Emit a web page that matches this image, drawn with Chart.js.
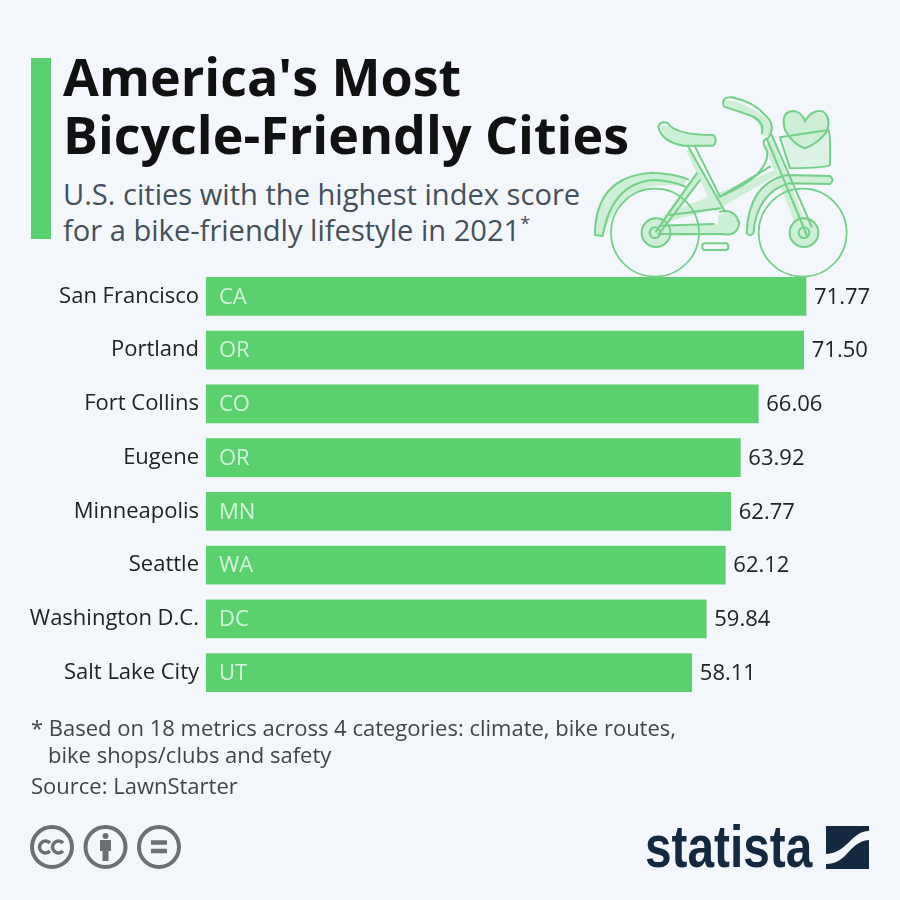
<!DOCTYPE html>
<html>
<head>
<meta charset="utf-8">
<script src="https://cdn.jsdelivr.net/npm/chart.js@4"></script>
<style>
  html, body { margin: 0; padding: 0; background: #f3f7fc; }
  #page { position: relative; width: 900px; height: 900px; overflow: hidden; font-family: "Open Sans", sans-serif; }
  #chart { position: absolute; left: 0; top: 0; }
  .txt { position: absolute; white-space: nowrap; }
  #accent { position: absolute; left: 31px; top: 58px; width: 20px; height: 181px; background: #5bd06f; }
  .title { left: 63px; font-size: 52px; font-weight: 700; color: #111; line-height: 58px; }
  .sub { left: 63px; font-size: 29.1px; color: #44505a; line-height: 36px; }
  .sub sup { font-size: 18px; line-height: 0; }
  .note { font-size: 22px; color: #444; line-height: 27px; }
  #bike, #cc, #logo { position: absolute; }
  #brand { left: 645px; top: 812px; font-family: "Liberation Sans", sans-serif; font-size: 59px; font-weight: 700; color: #14293f; line-height: 70px; transform: scaleX(0.81); transform-origin: left center; }
</style>
</head>
<body>
<div id="page">
  <div id="accent"></div>
  <div class="txt title" style="top:47px">America's Most</div>
  <div class="txt title" style="top:105px">Bicycle-Friendly Cities</div>
  <div class="txt sub" style="top:176px">U.S. cities with the highest index score</div>
  <div class="txt sub" style="top:212px">for a bike-friendly lifestyle in 2021<sup>*</sup></div>

  <canvas id="chart" width="900" height="900"></canvas>

  <svg id="bike" style="left:580px;top:80px" width="290" height="210" viewBox="0 0 870 630" fill="none" stroke="#74cf89" stroke-width="6" stroke-linecap="round" stroke-linejoin="round">
    <g fill="#cdefd5" stroke="none">
      <path d="M430 60 Q480 60 545 105 Q585 130 570 170 L545 165 Q545 125 500 105 L435 85Z"/>
      <path d="M240 135 L270 140 Q300 170 400 165 L410 195 L320 200 Q250 190 240 135Z"/>
      <path d="M610 110 Q640 80 675 115 Q715 80 745 115 Q755 160 675 205 Q610 170 610 110Z"/>
      <path d="M610 175 L750 155 L750 255 L630 265Z" opacity=".6"/>
      <path d="M415 405 Q470 385 480 435 Q470 475 415 465Z"/>
      <circle cx="228" cy="458" r="43"/>
      <circle cx="672" cy="458" r="43"/>
      <path d="M45 465 Q50 285 220 280 Q290 285 320 300 L310 320 Q130 290 70 465Z"/>
      <path d="M500 460 Q510 300 620 285 L755 290 L755 310 L620 315 Q540 340 520 460Z"/>
      <path d="M330 205 L430 385 L405 395 L320 215Z"/>
      <path d="M575 170 L690 460 L660 470 L555 200Z"/>
      <path d="M225 445 L350 275 L365 300 L245 460Z"/>
      <path d="M250 405 L585 270 L590 285 L420 385 L260 425Z"/>
      <path d="M225 437 L430 432 L430 465 L225 470Z"/>
    </g>
    <path d="M430 75 Q425 50 455 52 Q520 65 555 105 Q590 135 565 175 Q540 180 560 210 Q570 240 530 285 Q490 320 420 350"/>
    <path d="M432 80 Q480 95 520 110 Q555 130 545 160"/>
    <path d="M235 140 Q240 122 262 128 Q285 165 400 165 Q415 180 400 197 L310 197 Q245 185 235 140Z"/>
    <path d="M325 200 L435 395 M345 200 L420 350"/>
    <path d="M228 455 L350 280 M238 460 L360 300"/>
    <path d="M270 405 L420 385 M420 350 L570 260"/>
    <path d="M240 437 L400 432 M235 462 L430 462 Q470 470 478 430 Q465 385 420 395"/>
    <path d="M560 175 L680 465 M575 165 L695 440"/>
    <path d="M45 465 Q45 290 215 278 Q280 280 325 298 M68 468 Q95 310 220 300 Q270 300 315 320 M45 465 L68 468"/>
    <path d="M500 460 Q505 310 620 285 L750 288 Q765 300 750 312 L625 310 Q530 340 520 460 M500 460 Q510 470 520 460"/>
    <circle cx="225" cy="458" r="132" stroke-width="5"/>
    <circle cx="668" cy="458" r="132" stroke-width="5"/>
    <circle cx="228" cy="458" r="43"/>
    <circle cx="672" cy="458" r="43"/>
    <circle cx="225" cy="458" r="16"/>
    <circle cx="672" cy="458" r="16"/>
    <rect x="367" y="490" width="78" height="20" rx="8"/>
    <path d="M615 150 Q600 95 640 93 Q665 95 675 125 Q695 85 730 95 Q755 115 740 155 Q715 190 675 205 Q640 195 615 150"/>
    <path d="M600 172 L745 150 Q752 155 750 255 Q745 263 630 265 Z"/>
  </svg>

  <div class="txt note" style="left:31px;top:714px">* Based on 18 metrics across 4 categories: climate, bike routes,</div>
  <div class="txt note" style="left:48px;top:741px">bike shops/clubs and safety</div>
  <div class="txt note" style="left:31px;top:772px">Source: LawnStarter</div>

  <svg id="cc" style="left:30px;top:825px" width="155" height="46" viewBox="0 0 155 46" fill="none" stroke="#6d7073" stroke-width="4">
    <circle cx="22" cy="22" r="20"/>
    <circle cx="75.500" cy="22" r="20"/>
    <circle cx="129" cy="22" r="20"/>
    <path d="M20 18 A6 6 0 1 0 20 26 M33 18 A6 6 0 1 0 33 26" stroke-width="3.500"/>
    <circle cx="75.500" cy="11" r="3" fill="#6d7073" stroke="none"/>
    <path d="M70 15 H81 V26 H78.500 V36 H72.500 V26 H70Z" fill="#6d7073" stroke="none"/>
    <path d="M121 17.500 H137 M121 26 H137" stroke-width="4.500"/>
  </svg>

  <div class="txt" id="brand">statista</div>
  <svg id="logo" style="left:826px;top:826px" width="43" height="43" viewBox="0 0 43 43">
    <path d="M0 0 H43 V5 C25 5 22 27 0 28Z" fill="#14293f"/>
    <path d="M43 14 V43 H0 V38 C22 38 22 16 43 14Z" fill="#14293f"/>
  </svg>
</div>

<script>
const cities = ["San Francisco", "Portland", "Fort Collins", "Eugene", "Minneapolis", "Seattle", "Washington D.C.", "Salt Lake City"];
const states = ["CA", "OR", "CO", "OR", "MN", "WA", "DC", "UT"];
const scores = [71.77, 71.5, 66.06, 63.92, 62.77, 62.12, 59.84, 58.11];

const barLabels = {
  id: "barLabels",
  afterDatasetsDraw(chart) {
    const ctx = chart.ctx;
    const bars = chart.getDatasetMeta(0).data;
    ctx.save();
    ctx.font = '22px "Open Sans"';
    ctx.textBaseline = "middle";
    bars.forEach((bar, i) => {
      ctx.fillStyle = "rgba(255,255,255,0.75)";
      ctx.fillText(states[i], bar.base + 13, bar.y + 1);
      ctx.fillStyle = "#222";
      ctx.fillText(scores[i].toFixed(2), bar.x + 8, bar.y + 1);
    });
    ctx.restore();
  },
};

new Chart(document.getElementById("chart"), {
  type: "bar",
  data: {
    labels: cities,
    datasets: [{ data: scores, backgroundColor: "#5bd06f", barThickness: 38 }],
  },
  options: {
    indexAxis: "y",
    responsive: false,
    animation: false,
    layout: { padding: { top: 269.5, bottom: 200.5, right: 25.2 } },
    plugins: { legend: { display: false }, tooltip: { enabled: false } },
    scales: {
      x: { display: false, min: 0, max: 80 },
      y: {
        afterFit(scale) { scale.width = 206; },
        grid: { display: false },
        border: { display: false },
        ticks: { color: "#222", padding: -1, font: { family: "Open Sans", size: 22 } },
      },
    },
  },
  plugins: [barLabels],
});
</script>
</body>
</html>
